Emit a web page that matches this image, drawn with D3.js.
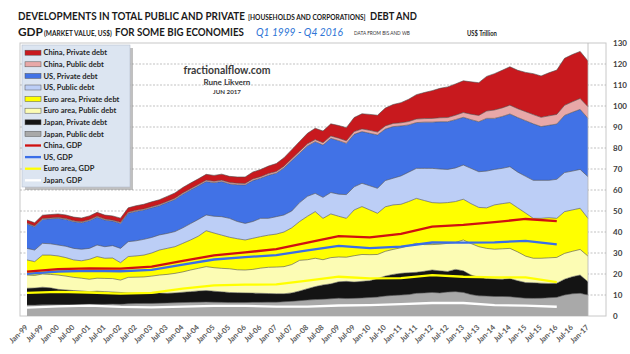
<!DOCTYPE html>
<html>
<head>
<meta charset="utf-8">
<script src="https://cdn.jsdelivr.net/npm/d3@7"></script>
<style>
  body { margin: 0; background: #fff; }
  svg { display: block; }
  text { font-family: Lato, "Open Sans", sans-serif; }
</style>
</head>
<body>
<svg id="chart" width="630" height="354"></svg>
<script>
// quarterly debt, US$ trillion (Q4 1998 .. Q4 2016)
const japanPublic = [5.2,5.2,5.3,5.3,5.3,5.4,5.4,5.5,5.6,5.6,
  5.6,5.7,5.6,5.8,5.9,6.0,6.0,6.1,6.2,6.3,
  6.4,6.5,6.6,6.7,6.6,6.5,6.4,6.4,6.4,6.5,
  6.5,6.6,6.6,6.8,7.0,7.3,7.6,7.8,8.0,8.2,
  8.5,8.3,8.4,8.6,8.8,9.0,9.5,9.8,10.0,10.2,
  10.8,11.0,11.2,11.0,11.4,11.6,11.2,10.2,9.6,9.5,
  9.3,9.3,9.2,8.8,8.5,8.4,8.5,8.7,8.9,10.0,
  10.6,10.8,10.0];
const japanPrivate = [8.0,8.1,8.4,8.1,7.4,7.0,6.7,6.4,6.0,6.2,
  6.0,5.7,5.6,5.2,5.0,4.8,4.8,4.8,4.6,4.7,
  4.9,5.1,5.3,5.4,5.2,5.0,4.8,4.7,4.6,4.4,
  4.3,4.1,4.0,3.8,4.0,4.6,5.4,6.2,6.8,7.1,
  7.8,8.2,7.8,7.9,8.0,8.8,9.5,10.0,10.3,10.4,
  10.0,10.3,10.7,10.5,9.8,10.6,10.3,9.3,8.8,8.4,
  8.3,8.2,8.6,8.0,7.4,7.4,7.1,6.8,6.7,7.5,
  8.1,8.7,6.3];
const euroPublic = [6.3,6.0,6.3,6.4,6.8,6.6,6.3,6.1,5.9,6.2,
  6.3,6.4,5.9,7.4,7.6,7.8,8.2,8.6,9.0,9.3,
  9.7,10.3,10.8,11.4,11.2,11.2,11.3,10.9,10.9,11.3,
  12.0,12.5,12.7,12.9,13.5,14.6,13.8,13.5,12.0,12.5,
  11.8,11.5,12.5,12.8,12.4,11.5,11.8,11.9,12.2,12.9,
  13.8,12.7,12.1,12.7,13.4,12.8,14.7,15.0,14.6,14.3,
  14.2,14.5,14.4,13.7,12.6,11.7,11.9,12.2,12.3,12.3,
  12.1,12.2,12.2];
const euroPrivate = [7.2,6.6,9.0,9.2,9.1,8.8,8.3,8.3,9.5,10.3,
  9.6,9.8,8.3,9.9,10.1,10.4,11.0,11.9,12.4,12.7,
  13.6,14.3,15.3,17.1,16.5,15.8,15.0,14.8,14.3,14.8,
  15.0,15.3,15.7,16.5,17.5,18.5,20.7,22.2,19.7,20.8,
  19.4,18.5,21.8,22.8,21.3,19.6,21.2,21.2,20.7,21.0,
  21.4,21.0,20.0,19.6,19.4,19.5,19.4,19.0,18.7,19.3,
  21.1,21.5,21.8,21.0,20.5,19.0,19.0,19.1,18.6,19.9,
  19.7,19.6,18.0];
const usPublic = [5.5,5.5,5.6,5.4,5.2,5.4,5.5,5.5,5.2,5.5,
  5.5,5.9,6.8,7.1,7.2,7.5,7.4,7.2,7.1,7.2,
  7.4,7.8,8.0,7.5,8.0,8.8,9.0,8.2,7.9,8.0,
  8.7,8.0,8.3,8.1,8.0,9.0,9.5,8.7,10.0,10.2,
  10.5,11.3,11.0,11.1,11.5,11.9,12.5,12.7,13.5,14.0,
  14.3,15.3,16.3,16.2,15.8,16.0,16.3,16.8,17.0,17.5,
  16.9,16.8,17.1,17.0,17.5,18.1,18.1,17.8,18.6,18.6,
  18.5,18.5,19.8];
const usPrivate = [11.6,11.1,11.4,11.9,12.7,12.8,12.7,12.6,13.2,13.2,
  12.7,11.7,11.9,13.5,14.0,14.0,14.1,13.9,14.7,15.3,
  16.0,16.0,16.0,15.9,16.0,16.7,16.4,17.5,18.3,19.5,
  19.1,20.5,20.7,22.4,24.0,23.5,24.0,24.6,24.9,25.8,
  25.5,24.4,25.0,24.6,25.0,25.4,24.5,24.6,23.8,22.5,
  21.8,22.0,22.0,22.5,22.7,23.0,22.7,23.2,23.8,25.1,
  24.3,24.7,25.1,26.0,26.5,26.9,25.6,26.2,26.3,27.2,
  28.0,28.6,27.8];
const chinaPublic = [0.4,0.4,0.4,0.4,0.4,0.4,0.4,0.45,0.45,0.45,
  0.45,0.45,0.5,0.5,0.5,0.5,0.55,0.55,0.55,0.6,
  0.6,0.6,0.6,0.65,0.65,0.65,0.7,0.7,0.7,0.75,
  0.75,0.8,0.8,0.85,0.9,0.95,1.0,1.0,1.1,1.1,
  1.2,1.2,1.3,1.3,1.4,1.4,1.5,1.5,1.5,1.6,
  1.7,1.7,1.8,1.9,2.0,2.1,2.3,2.6,3.0,3.5,
  4.0,4.1,4.2,4.2,4.3,4.4,4.4,4.5,4.6,4.8,
  5.0,5.2,5.5];
const chinaPrivate = [1.5,1.5,1.6,1.6,1.7,1.7,1.8,1.8,1.8,1.9,
  1.9,2.0,2.0,2.1,2.2,2.2,2.3,2.3,2.4,2.5,
  2.6,2.7,2.7,2.8,2.8,2.9,2.9,3.0,3.1,3.3,
  3.4,3.6,3.8,4.0,4.3,4.7,5.0,5.4,5.6,5.8,
  6.0,6.3,6.7,7.2,7.6,8.0,8.5,9.0,9.6,10.6,
  11.6,12.4,13.2,14.0,14.6,14.9,15.1,15.4,15.6,16.5,
  17.3,17.9,18.3,18.3,18.7,19.5,19.7,20.5,21.1,22.4,
  22.5,22.4,21.8];

// annual GDP, US$ trillion, 1998 .. 2015 (plotted at year end)
const japanGDP = [4.0,4.6,4.9,4.3,4.1,4.5,4.8,4.8,4.5,4.5,5.0,5.2,5.7,6.2,6.2,5.2,4.9,4.4];
const euroGDP  = [7.0,6.9,6.3,6.4,6.9,8.5,9.8,10.1,10.6,12.3,13.7,12.7,12.3,13.3,12.5,13.2,13.5,11.7];
const usGDP    = [9.1,9.7,10.3,10.6,11.0,11.5,12.3,13.1,13.9,14.5,14.7,14.4,15.0,15.5,16.2,16.7,17.4,18.0];
const chinaGDP = [1.0,1.1,1.2,1.3,1.5,1.7,2.0,2.3,2.8,3.6,4.6,5.1,6.1,7.6,8.5,9.6,10.4,11.1];

const yTicks = d3.range(0, 131, 10);

const debtKeys = ["japanPublic", "japanPrivate", "euroPublic", "euroPrivate",
                  "usPublic", "usPrivate", "chinaPublic", "chinaPrivate"];
const debtSeries = {japanPublic, japanPrivate, euroPublic, euroPrivate,
                    usPublic, usPrivate, chinaPublic, chinaPrivate};
const colors = {
  japanPublic: "#a9a9a9", japanPrivate: "#141414",
  euroPublic: "#fcfcb4", euroPrivate: "#ffff00",
  usPublic: "#bccef6", usPrivate: "#4172e6",
  chinaPublic: "#e8a8a8", chinaPrivate: "#c8191e"
};
const gdpKeys = ["japan", "euro", "us", "china"];
const gdpSeries = {japan: japanGDP, euro: euroGDP, us: usGDP, china: chinaGDP};
const gdpColors = {japan: "#ffffff", euro: "#ffff00", us: "#3a6ee8", china: "#d01010"};

const startDate = new Date(1999, 0, 1);
const quarterDates = d3.range(japanPublic.length).map(i => d3.timeMonth.offset(startDate, 3 * i));
const gdpDates = d3.range(japanGDP.length).map(i => new Date(1999 + i, 0, 1));

const debtRows = quarterDates.map((date, i) => {
  const row = {date};
  debtKeys.forEach(k => row[k] = debtSeries[k][i]);
  return row;
});
const gdpRows = gdpDates.map((date, i) => {
  const row = {date};
  gdpKeys.forEach(k => row[k] = gdpSeries[k][i]);
  return row;
});

const svg = d3.select("#chart");
const plot = {left: 20, right: 606, top: 43, bottom: 316};

const x = d3.scaleTime()
  .domain([startDate, new Date(2017, 0, 1)])
  .range([27, 588]);
const y = d3.scaleLinear().domain([0, 130]).range([plot.bottom, plot.top]);

svg.append("rect").attr("width", 630).attr("height", 354).attr("fill", "#fff");

// plot frame + gridlines
svg.append("rect")
  .attr("x", plot.left).attr("y", plot.top)
  .attr("width", plot.right - plot.left).attr("height", plot.bottom - plot.top)
  .attr("fill", "#fff").attr("stroke", "#c8c8c8").attr("stroke-width", 1);

svg.append("g").selectAll("line")
  .data(yTicks.filter(v => v > 0 && v < 130))
  .join("line")
  .attr("x1", plot.left).attr("x2", plot.right)
  .attr("y1", d => y(d)).attr("y2", d => y(d))
  .attr("stroke", "#a6a6a6").attr("stroke-width", 0.7)
  .attr("stroke-dasharray", "2,1.5");

// squeezes a text horizontally to a given width (narrow, Calibri-like look)
function fitText(str, xPos, yPos, size, width, opts = {}) {
  const t = svg.append("text")
    .attr("font-size", size)
    .attr("font-weight", opts.weight || "bold")
    .attr("font-style", opts.style || "normal")
    .attr("fill", opts.color || "#1a1a1a")
    .text(str);
  const natural = t.node().getComputedTextLength();
  const sx = width / natural;
  const left = opts.center ? xPos - width / 2 : xPos;
  t.attr("transform", `translate(${left},${yPos}) scale(${sx},1)`);
  return t;
}

// watermark
fitText("fractionalflow.com", 227, 74, 10.5, 87, {center: true, color: "#3a3a3a"});
fitText("Rune Likvern", 227, 84.5, 7.5, 47, {center: true, color: "#3a3a3a"});
fitText("JUN 2017", 227, 94, 5.5, 28, {center: true, color: "#3a3a3a"});

// stacked debt areas
const stack = d3.stack().keys(debtKeys);
const layers = stack(debtRows);

const area = d3.area()
  .x(d => x(d.data.date))
  .y0(d => y(d[0]))
  .y1(d => y(d[1]));
const topLine = d3.line()
  .x(d => x(d.data.date))
  .y(d => y(d[1]));

svg.append("g").selectAll("path")
  .data(layers)
  .join("path")
  .attr("d", area)
  .attr("fill", d => colors[d.key]);

svg.append("g").selectAll("path")
  .data(layers)
  .join("path")
  .attr("d", topLine)
  .attr("fill", "none")
  .attr("stroke", "#4d4d4d")
  .attr("stroke-width", 0.6);

// right edge of the data
svg.append("line")
  .attr("x1", x(quarterDates[quarterDates.length - 1])).attr("x2", x(quarterDates[quarterDates.length - 1]))
  .attr("y1", plot.top).attr("y2", plot.bottom)
  .attr("stroke", "#b5b5b5").attr("stroke-width", 0.8);

// stacked GDP lines
const gdpLayers = d3.stack().keys(gdpKeys)(gdpRows);
svg.append("g").selectAll("path")
  .data(gdpLayers)
  .join("path")
  .attr("d", topLine)
  .attr("fill", "none")
  .attr("stroke", d => gdpColors[d.key])
  .attr("stroke-width", 2.3);

// y axis (right)
const yAxis = svg.append("g")
  .attr("transform", `translate(${plot.right},0)`)
  .call(d3.axisRight(y).tickValues(yTicks).tickSize(0).tickPadding(7));
yAxis.select(".domain").remove();
yAxis.selectAll("text")
  .attr("font-family", "Lato, sans-serif")
  .attr("font-size", 8).attr("font-weight", "bold").attr("fill", "#404040");

// x axis
const xAxis = svg.append("g")
  .attr("transform", `translate(0,${plot.bottom})`)
  .call(d3.axisBottom(x).ticks(d3.timeMonth.every(6)).tickFormat(d3.timeFormat("%b-%y")).tickSize(0));
xAxis.select(".domain").remove();
xAxis.selectAll("text")
  .attr("x", 0).attr("y", 0).attr("dy", "0.35em")
  .attr("transform", "translate(-1,10) rotate(-45)")
  .style("text-anchor", "end")
  .attr("font-family", "Lato, sans-serif")
  .attr("font-size", 7.5).attr("font-weight", "bold").attr("fill", "#595959");

// legend
const legendItems = [
  {label: "China, Private debt", color: colors.chinaPrivate, kind: "area"},
  {label: "China, Public debt", color: colors.chinaPublic, kind: "area"},
  {label: "US, Private debt", color: colors.usPrivate, kind: "area"},
  {label: "US, Public debt", color: colors.usPublic, kind: "area"},
  {label: "Euro area, Private debt", color: colors.euroPrivate, kind: "area"},
  {label: "Euro area, Public debt", color: colors.euroPublic, kind: "area"},
  {label: "Japan, Private debt", color: colors.japanPrivate, kind: "area"},
  {label: "Japan, Public debt", color: colors.japanPublic, kind: "area"},
  {label: "China, GDP", color: gdpColors.china, kind: "line"},
  {label: "US, GDP", color: gdpColors.us, kind: "line"},
  {label: "Euro area, GDP", color: gdpColors.euro, kind: "line"},
  {label: "Japan, GDP", color: gdpColors.japan, kind: "line"}
];
const legend = svg.append("g");
legend.append("rect").attr("x", 25).attr("y", 48).attr("width", 108).attr("height", 142)
  .attr("fill", "#8c8c8c").attr("opacity", 0.55);
legend.append("rect").attr("x", 22).attr("y", 45).attr("width", 108).attr("height", 142)
  .attr("fill", "#dce5f1").attr("stroke", "#b4bccb").attr("stroke-width", 0.6);

const entry = legend.selectAll("g.item")
  .data(legendItems)
  .join("g")
  .attr("class", "item")
  .attr("transform", (d, i) => `translate(0,${52.7 + i * 11.6})`);
entry.filter(d => d.kind === "area").append("rect")
  .attr("x", 25).attr("y", -2.5).attr("width", 16).attr("height", 5)
  .attr("fill", d => d.color).attr("stroke", "#555").attr("stroke-width", 0.5);
entry.filter(d => d.kind === "line").append("line")
  .attr("x1", 25).attr("x2", 41).attr("y1", 0).attr("y2", 0)
  .attr("stroke", d => d.color).attr("stroke-width", 2.3);
entry.append("text")
  .attr("x", 43.5).attr("y", 0).attr("dy", "0.35em")
  .attr("font-size", 7.5).attr("font-weight", "bold").attr("fill", "#262626")
  .text(d => d.label);

// title
fitText("DEVELOPMENTS IN TOTAL PUBLIC AND PRIVATE", 18, 20, 11.5, 227);
fitText("[HOUSEHOLDS AND CORPORATIONS]", 248, 20, 7, 118);
fitText("DEBT AND", 370, 20, 11.5, 47);
fitText("GDP", 18, 36, 11.5, 25);
fitText("(MARKET VALUE, US$)", 44, 36, 7, 68);
fitText("FOR SOME BIG ECONOMIES", 115, 36, 11.5, 129);
fitText("Q1 1999 - Q4 2016", 256, 36, 12, 87, {style: "italic", weight: "normal", color: "#2e75d6"});
fitText("DATA FROM BIS  AND WB", 354, 35, 6, 56, {weight: "normal", color: "#333"});
fitText("US$ Trillion", 467, 36, 7.5, 30);
</script>
</body>
</html>
